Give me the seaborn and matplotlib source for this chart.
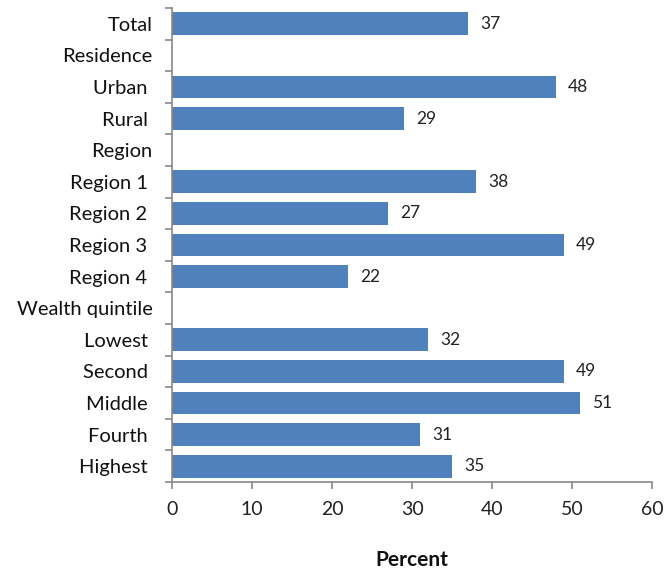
import numpy as np
import pandas as pd
import matplotlib
matplotlib.use("Agg")
import matplotlib.pyplot as plt
import seaborn as sns

categories = ["Total", "Residence", "Urban ", "Rural ", "Region", "Region 1 ", "Region 2 ",
              "Region 3 ", "Region 4 ", "Wealth quintile", "Lowest ", "Second ", "Middle ",
              "Fourth ", "Highest "]
values = [37, np.nan, 48, 29, np.nan, 38, 27, 49, 22, np.nan, 32, 49, 51, 31, 35]
x_ticks = [0, 10, 20, 30, 40, 50, 60]

sns.set_theme(style="white")
plt.rcParams["font.family"] = ["Lato", "DejaVu Sans"]

df = pd.DataFrame({"category": categories, "percent": values})

fig = plt.figure(figsize=(6.67, 5.71), dpi=100)
ax = fig.add_axes([0.258, 0.156, 0.7195, 0.830])

sns.barplot(data=df, x="percent", y="category", order=categories, orient="h",
            color="#4F81BD", saturation=1, width=0.72, linewidth=0, ax=ax)

for i, v in enumerate(values):
    if not np.isnan(v):
        ax.text(v + 1.5, i, f"{int(v)}", va="center", ha="left", fontsize=12.5, color="#222222")

ax.set_xlim(0, 60)
ax.set_ylim(len(categories) - 0.5, -0.5)
ax.set_xticks(x_ticks)
ax.set_xticklabels([str(t) for t in x_ticks], fontsize=14, color="#222222")
ax.set_yticks(range(len(categories)))
ax.set_yticklabels(categories, fontsize=14.5, color="#111111")
ax.set_yticks(np.arange(-0.5, len(categories), 1), minor=True)
ax.tick_params(axis="y", which="major", length=0, pad=14)
ax.tick_params(axis="y", which="minor", length=5, width=1.2, color="#888888", direction="out", left=True)
ax.tick_params(axis="x", which="major", length=5, width=1.2, color="#888888", direction="out", bottom=True, pad=9)

ax.set_xlabel("Percent", fontsize=15, fontweight="bold", labelpad=23, color="#111111")
ax.set_ylabel("")

for side in ["top", "right"]:
    ax.spines[side].set_visible(False)
for side in ["left", "bottom"]:
    ax.spines[side].set_color("#888888")
    ax.spines[side].set_linewidth(1.2)

fig.savefig("out.png", dpi=100)
